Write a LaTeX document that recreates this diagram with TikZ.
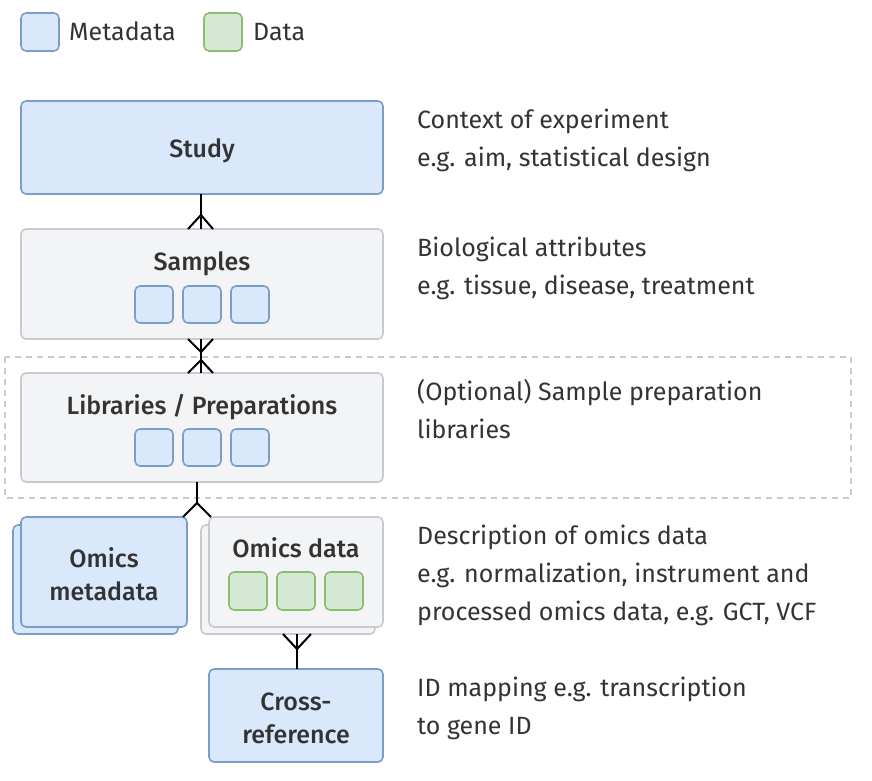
\documentclass[tikz,border=0pt]{standalone}
\usepackage{fontspec}
\setmainfont{Fira Sans}[BoldFont={Fira Sans Medium}]
\begin{document}
\begin{tikzpicture}[x=1pt,y=-1pt]
\definecolor{mb}{HTML}{DAE8FC}\definecolor{md}{HTML}{7C9CCB}
\definecolor{gb}{HTML}{F3F4F6}\definecolor{gd}{HTML}{C9CACF}
\definecolor{db}{HTML}{D5E8D4}\definecolor{dd}{HTML}{8DBD72}
\definecolor{tx}{HTML}{333333}
\tikzset{meta/.style={draw=md, fill=mb, line width=1.6pt, rounded corners=5pt},
  grayb/.style={draw=gd, fill=gb, line width=1.6pt, rounded corners=5pt},
  datab/.style={draw=dd, fill=db, line width=1.6pt, rounded corners=5pt},
  conn/.style={line width=2pt, black},
  desc/.style={anchor=west, font=\fontsize{25}{33}\selectfont, text=tx, inner sep=0pt, text height=18pt, text depth=6pt},
  title/.style={font=\bfseries\fontsize{25}{33}\selectfont, text=tx, inner sep=0pt, text height=18pt, text depth=6pt},
  titletwo/.style={font=\bfseries\fontsize{25}{33}\selectfont, text=tx, inner sep=0pt, align=center}}
\useasboundingbox (0,0) rectangle (872,780);
% legend
\draw[meta] (21,13) rectangle (59,51);
\node[desc] (lm) at (69,34) {Metadata};
\draw[datab] (204,13) rectangle (242,51);
\node[desc] (ld) at (253,34) {Data};
% dashed
\draw[gd, line width=1.5pt, dash pattern=on 6pt off 5pt] (5,357) rectangle (851,498);
% study
\draw[meta] (21,101) rectangle (383,194);
\node[title] (study) at (202,151) {Study};
% samples
\draw[grayb] (21,229) rectangle (383,339);
\node[title] (samples) at (202,264) {Samples};
\foreach \x in {135,183,231} \draw[meta] (\x,286) rectangle +(38,37);
% libraries
\draw[grayb] (21,373) rectangle (383,482);
\node[title] (lib) at (202,408) {Libraries / Preparations};
\foreach \x in {135,183,231} \draw[meta] (\x,429) rectangle +(38,37);
% omics metadata
\draw[meta] (13,525) rectangle (178,634);
\draw[meta] (21,517) rectangle (187,627);
\node[titletwo] (om) at (104,574) {Omics\\metadata};
% omics data
\draw[grayb] (201,525) rectangle (375,634);
\draw[grayb] (209,517) rectangle (383,627);
\node[title] (od) at (296,551) {Omics data};
\foreach \x in {229,277,325} \draw[datab] (\x,572) rectangle +(38,38);
% cross-reference
\draw[meta] (209,669) rectangle (383,762);
\node[titletwo] (cr) at (296,718) {Cross-\\reference};
% connectors
\draw[conn] (201,194) -- (201,229);
\draw[conn] (188,229) -- (201,215) -- (213,229);
\draw[conn] (201,339) -- (201,373);
\draw[conn] (188,339) -- (201,352) -- (213,339);
\draw[conn] (188,373) -- (201,360) -- (213,373);
\draw[conn] (197,482) -- (197,503);
\draw[conn] (183,517) -- (197,503) -- (211,517);
\draw[conn] (297,634) -- (297,669);
\draw[conn] (283,634) -- (297,649) -- (311,634);
% descriptions
\node[desc] at (417,122) {Context of experiment};
\node[desc] at (417,160) {e.g. aim, statistical design};
\node[desc] at (417,250) {Biological attributes};
\node[desc] at (417,288) {e.g. tissue, disease, treatment};
\node[desc] at (417,394) {(Optional) Sample preparation};
\node[desc] at (417,432) {libraries};
\node[desc] at (417,538) {Description of omics data};
\node[desc] at (417,576) {e.g. normalization, instrument and};
\node[desc] at (417,614) {processed omics data, e.g. GCT, VCF};
\node[desc] at (417,690) {ID mapping e.g. transcription};
\node[desc] at (417,728) {to gene ID};
\end{tikzpicture}
\end{document}
